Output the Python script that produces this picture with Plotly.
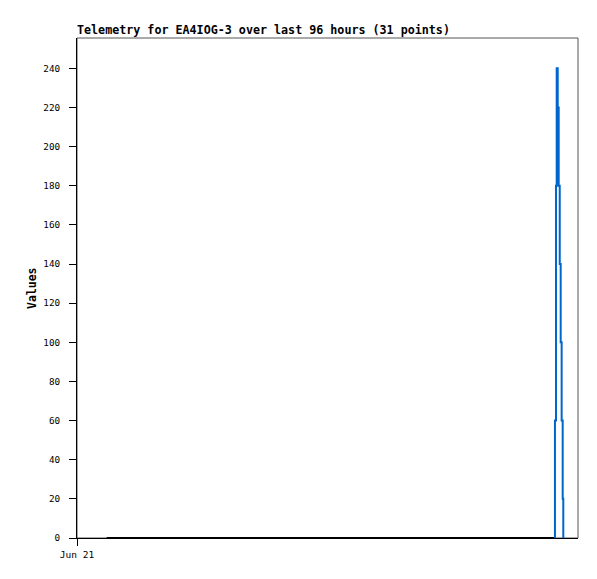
import plotly.graph_objects as go

# Data
zero_times = ["2024-06-21 05:41", "2024-06-24 19:35"]
zero_values = [0, 0]

tel_times = ["2024-06-24 19:35", "2024-06-24 19:35", "2024-06-24 19:47", "2024-06-24 19:55",
             "2024-06-24 20:07", "2024-06-24 20:18", "2024-06-24 20:30", "2024-06-24 20:41",
             "2024-06-24 20:52", "2024-06-24 21:04", "2024-06-24 21:11"]
tel_values = [0, 60, 180, 240, 220, 180, 140, 100, 60, 20, 0]

y_ticks = list(range(0, 241, 20))
x_tick_vals = ["2024-06-21 00:00"]
x_tick_text = ["Jun 21"]

title_text = "Telemetry for EA4IOG-3 over last 96 hours (31 points)"

fig = go.Figure()
fig.add_trace(go.Scatter(x=zero_times, y=zero_values, mode="lines",
                         line=dict(color="#000000", width=2), showlegend=False))
fig.add_trace(go.Scatter(x=tel_times, y=tel_values, mode="lines", line_shape="hv",
                         line=dict(color="#0066CC", width=2), showlegend=False))

mono = "DejaVu Sans Mono"
# page body has an 8px margin, so the figure is slightly smaller and offset
fig.update_layout(
    width=589, height=571,
    margin=dict(l=69, r=19, t=30, b=41),
    paper_bgcolor="white", plot_bgcolor="white",
    showlegend=False,
    xaxis=dict(range=["2024-06-21 00:00", "2024-06-25 00:00"], type="date",
               tickvals=x_tick_vals, ticktext=x_tick_text,
               showgrid=False, zeroline=False, showline=True, linecolor="black", linewidth=1,
               ticks="outside", ticklen=7, tickcolor="black", ticklabelstandoff=1,
               tickfont=dict(family=mono, size=9.5, color="black")),
    yaxis=dict(range=[0, 255.5], tickvals=y_ticks,
               showgrid=False, zeroline=False, showline=True, linecolor="black", linewidth=1,
               ticks="outside", ticklen=7, tickcolor="black", ticklabelstandoff=7,
               tickfont=dict(family=mono, size=9.3, color="black")),
    shapes=[dict(type="rect", xref="paper", yref="paper", x0=0, y0=0, x1=1, y1=1,
                 line=dict(color="#555555", width=1), layer="below")],
    annotations=[
        dict(text="<b>" + title_text + "</b>", xref="paper", yref="paper", x=0, y=1,
             xanchor="left", yanchor="bottom", xshift=-2, yshift=-1, showarrow=False,
             font=dict(family=mono, size=11.7, color="black")),
        dict(text="<b>Values</b>", xref="paper", yref="paper", x=0, y=0.5,
             xanchor="center", yanchor="middle", xshift=-45, textangle=-90, showarrow=False,
             font=dict(family=mono, size=11.5, color="black")),
    ],
)

fig.write_html("out.html")
